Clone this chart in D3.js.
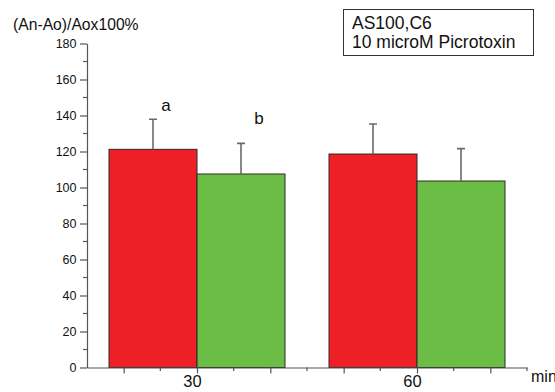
<!DOCTYPE html>
<meta charset="utf-8">
<title>picrotoxin bars</title>
<head>
<style>
body { margin: 0; background: #fff; }
svg { display: block; font-family: "Liberation Sans", Arial, sans-serif; }
.axis path, .axis line { stroke: #555; stroke-width: 1.2; }
.bar { stroke: #2a2a2a; stroke-width: 1; }
.err { stroke: #6b6b6b; stroke-width: 1.6; fill: none; }
</style>
</head>
<body>
<div id="chart"></div>
<script src="https://cdn.jsdelivr.net/npm/d3@7"></script>
<script>
// data
var times = [30, 60];
var control = [121.2, 118.6];
var controlErr = [16.7, 16.7];
var picro = [107.5, 103.6];
var picroErr = [17.0, 18.0];
var yTicks = [0, 20, 40, 60, 80, 100, 120, 140, 160, 180];
var xLabels = [30, 60];
var letters = ["a", "b"];

var width = 555, height = 392;
var svg = d3.select("#chart").append("svg")
    .attr("width", width)
    .attr("height", height);

var x = d3.scaleLinear().domain([15, 75]).range([87, 527]);
var y = d3.scaleLinear().domain([0, 180]).range([367.5, 43.5]);
var barW = 12;

var series = [
  {name: "control", vals: control, err: controlErr, color: "#ee1f26", off: -barW},
  {name: "picro", vals: picro, err: picroErr, color: "#6cbd46", off: 0}
];

// bars
series.forEach(function(s) {
  var g = svg.append("g");
  g.selectAll("rect")
      .data(times)
    .enter().append("rect")
      .attr("class", "bar")
      .attr("x", function(t) { return x(t + s.off); })
      .attr("width", function(t) { return x(t + s.off + barW) - x(t + s.off); })
      .attr("y", function(t, i) { return y(s.vals[i]); })
      .attr("height", function(t, i) { return y(0) - y(s.vals[i]); })
      .style("fill", s.color);

  // upper error bars only
  g.selectAll(".err")
      .data(times)
    .enter().append("path")
      .attr("class", "err")
      .attr("d", function(t, i) {
        var cx = x(t + s.off + barW / 2),
            y0 = y(s.vals[i]), y1 = y(s.vals[i] + s.err[i]);
        return "M" + cx + "," + y0 + "V" + y1 + "M" + (cx - 4) + "," + y1 + "H" + (cx + 4);
      });
});

// y axis
var yAxis = svg.append("g")
    .attr("class", "axis")
    .attr("transform", "translate(" + x(15) + ",0)")
    .call(d3.axisLeft(y).tickValues(yTicks).tickSize(7).tickPadding(3.5).tickSizeOuter(0));
yAxis.selectAll("text").style("font-size", "12.5px").style("fill", "#111");
yAxis.selectAll(".minor")
    .data(yTicks.slice(0, -1))
  .enter().append("line")
    .attr("class", "minor")
    .attr("x1", -4).attr("x2", 0)
    .attr("y1", function(d) { return y(d + 10); })
    .attr("y2", function(d) { return y(d + 10); });

// x axis: major every 10, minor every 5, only 30 and 60 labelled
var xAxis = svg.append("g")
    .attr("class", "axis")
    .attr("transform", "translate(0," + y(0) + ")")
    .call(d3.axisBottom(x).tickValues(d3.range(20, 75, 10)).tickSize(6)
      .tickFormat(function(d) { return xLabels.indexOf(d) >= 0 ? d : ""; })
      .tickSizeOuter(0));
xAxis.selectAll("text")
    .style("font-size", "16.5px").style("fill", "#111")
    .attr("dx", -5).attr("y", 8);
xAxis.selectAll(".minor")
    .data(d3.range(25, 80, 10))
  .enter().append("line")
    .attr("class", "minor")
    .attr("x1", function(d) { return x(d); })
    .attr("x2", function(d) { return x(d); })
    .attr("y1", 0).attr("y2", 3.5);

svg.append("text")
    .attr("x", 531).attr("y", 382)
    .style("font-size", "16px").style("fill", "#111")
    .text("min");

svg.append("text")
    .attr("x", 13).attr("y", 30)
    .style("font-size", "15.7px").style("fill", "#111")
    .text("(An-Ao)/Aox100%");

// significance letters above the 30 min bars
var letterPos = [{dx: 13, dy: -8}, {dx: 18, dy: -19}];
letters.forEach(function(l, i) {
  var s = series[i];
  svg.append("text")
      .attr("x", x(times[0] + s.off + barW / 2) + letterPos[i].dx)
      .attr("y", y(s.vals[0] + s.err[0]) + letterPos[i].dy)
      .attr("text-anchor", "middle")
      .style("font-size", "17px").style("fill", "#111")
      .text(l);
});

// legend-like label box
svg.append("rect")
    .attr("x", 343.5).attr("y", 9.5)
    .attr("width", 190).attr("height", 46)
    .style("fill", "#fff").style("stroke", "#333").style("stroke-width", 1);
svg.append("text")
    .attr("x", 352).attr("y", 28.5)
    .style("font-size", "17.5px").style("fill", "#111")
    .text("AS100,C6");
svg.append("text")
    .attr("x", 352).attr("y", 48)
    .style("font-size", "17.5px").style("fill", "#111")
    .text("10 microM Picrotoxin");
</script>
</body>
</html>
